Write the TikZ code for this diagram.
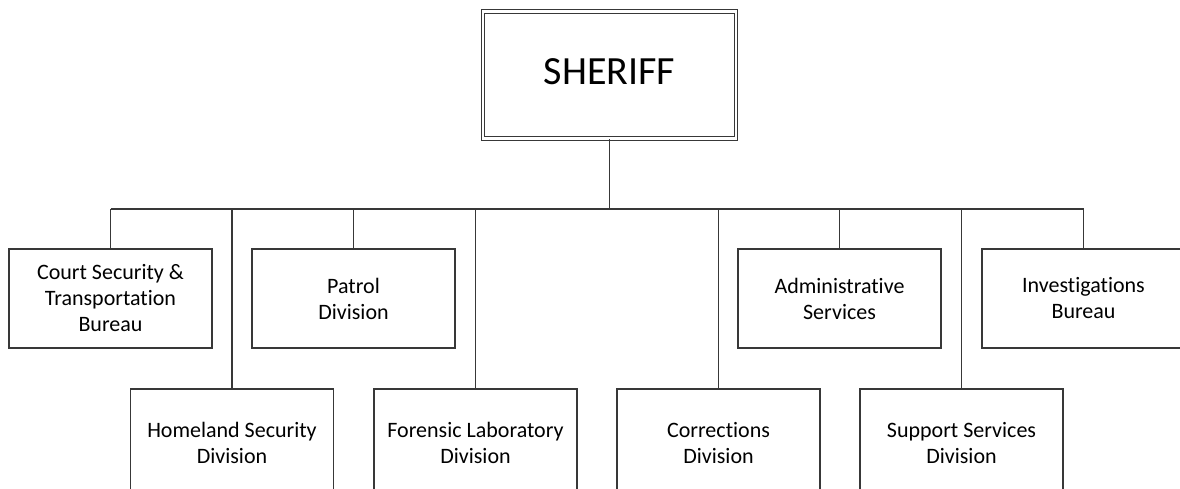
\documentclass[tikz,border=0pt]{standalone}
\usepackage{fontspec}
\setmainfont[Ligatures={NoCommon}]{Carlito}
\begin{document}
\begin{tikzpicture}[x=1pt,y=-1pt,
  line/.style={draw=black!78, line width=1.5pt},
  unit/.style={draw=black!78, line width=1.1pt, fill=white, minimum width=203pt, inner sep=0pt,
    align=center, font=\fontsize{22}{26}\selectfont},
  topunit/.style={unit, minimum height=99pt},
  lowunit/.style={unit, minimum height=108pt, text depth=0pt},
  chief/.style={draw=black!78, line width=1pt, double, double distance=2.3pt, minimum width=253pt,
    minimum height=127pt, inner sep=0pt, font=\fontsize{40}{48}\selectfont}]
\useasboundingbox (0,0) rectangle (1180,488);
\clip (0,0) rectangle (1180,488);
\fill[white] (0,0) rectangle (1180,488);
\coordinate (bus) at (0,209);
\node[chief] (sheriff) at (609.5,75) {\raisebox{7pt}{SHERIFF}};
\node[topunit] (court) at (110.5,298.5) {Court Security \&\\Transportation\\Bureau};
\node[topunit] (patrol) at (353.5,298.5) {Patrol\\Division};
\node[topunit] (admin) at (839.5,298.5) {Administrative\\Services};
\node[topunit] (invest) at (1083.5,298.5) {Investigations\\Bureau};
\node[lowunit] (homeland) at (232,443) {Homeland Security\\Division};
\node[lowunit] (forensic) at (475.5,443) {Forensic Laboratory\\Division};
\node[lowunit] (corr) at (718.5,443) {Corrections\\Division};
\node[lowunit] (support) at (961.5,443) {Support Services\\Division};
\draw[line] (sheriff.south) -- (sheriff.south |- bus);
\draw[line] (court.north |- bus) -- (invest.north |- bus);
\foreach \n in {court,patrol,admin,invest,homeland,forensic,corr,support}
  \draw[line] (\n.north) -- (\n.north |- bus);
\end{tikzpicture}
\end{document}
